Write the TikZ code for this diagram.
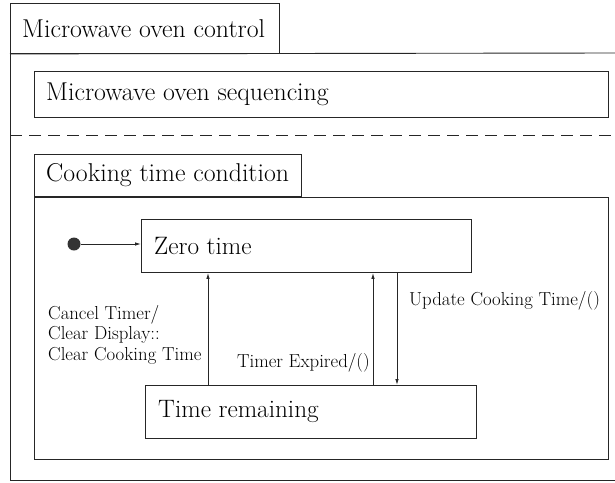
\documentclass[tikz,border=0pt]{standalone}
\usepackage{fontspec}
\usetikzlibrary{arrows.meta}
\begin{document}
\begin{tikzpicture}[x=1pt,y=-1pt,
  frame/.style={draw=black!85, line width=0.9pt},
  bigfont/.style={font=\fontsize{25.8}{30}\selectfont},
  statefont/.style={font=\fontsize{25.2}{30}\selectfont},
  statebox/.style={frame, anchor=north west, inner sep=0pt},
  boxtitle/.style={label={[bigfont, anchor=west, inner sep=0pt, xshift=12pt]west:#1}},
  statename/.style={label={[statefont, anchor=west, inner sep=0pt, xshift=13pt]west:#1}},
  labeltext/.style={font=\fontsize{18.8}{20.5}\selectfont, align=left, inner sep=0pt},
  trans/.style={draw=black!85, line width=0.9pt, -{Latex[length=6pt,width=3.5pt]}}]
\useasboundingbox (0,0) rectangle (615,482);

% outer composite state
\node[statebox, minimum width=269pt, minimum height=50pt, boxtitle={Microwave oven control}] (ctrltab) at (10,3) {};
\draw[frame] (ctrltab.south west) -- (10,480) -- (617,480);
\draw[frame] (ctrltab.south west) -- (617,53);

% first region
\node[statebox, minimum width=574pt, minimum height=46pt, boxtitle={Microwave oven sequencing}] (seq) at (34,71) {};

% region separator
\draw[frame, dash pattern=on 12pt off 7pt] (10,135) -- (617,135);

% second region
\node[statebox, minimum width=267pt, minimum height=42pt, boxtitle={Cooking time condition}] (cooktab) at (34,154) {};
\node[statebox, minimum width=574pt, minimum height=262pt] (cook) at (cooktab.south west) {};

% states
\node[statebox, minimum width=330pt, minimum height=53pt, statename={Zero time}] (zero) at (141,219) {};
\node[statebox, minimum width=331pt, minimum height=53pt, statename={Time remaining}] (remain) at (145,385) {};
\node[circle, fill=black!80, minimum size=13pt, inner sep=0pt] (init) at (74,244) {};

% transitions
\draw[trans] (init.east) -- (init.east -| zero.west);
\draw[trans] (208,0 |- remain.north) -- (208,0 |- zero.south);
\draw[trans] (373,0 |- remain.north) -- (373,0 |- zero.south);
\draw[trans] (397,0 |- zero.south) -- (397,0 |- remain.north);

% transition labels
\node[labeltext, anchor=north west] (lcancel) at (48,305) {Cancel Timer/\\Clear Display::\\Clear Cooking Time};
\node[labeltext, anchor=east] (lexpired) at (370,363) {Timer Expired/()};
\node[labeltext, anchor=west] (lupdate) at (409,301) {Update Cooking Time/()};
\end{tikzpicture}
\end{document}
